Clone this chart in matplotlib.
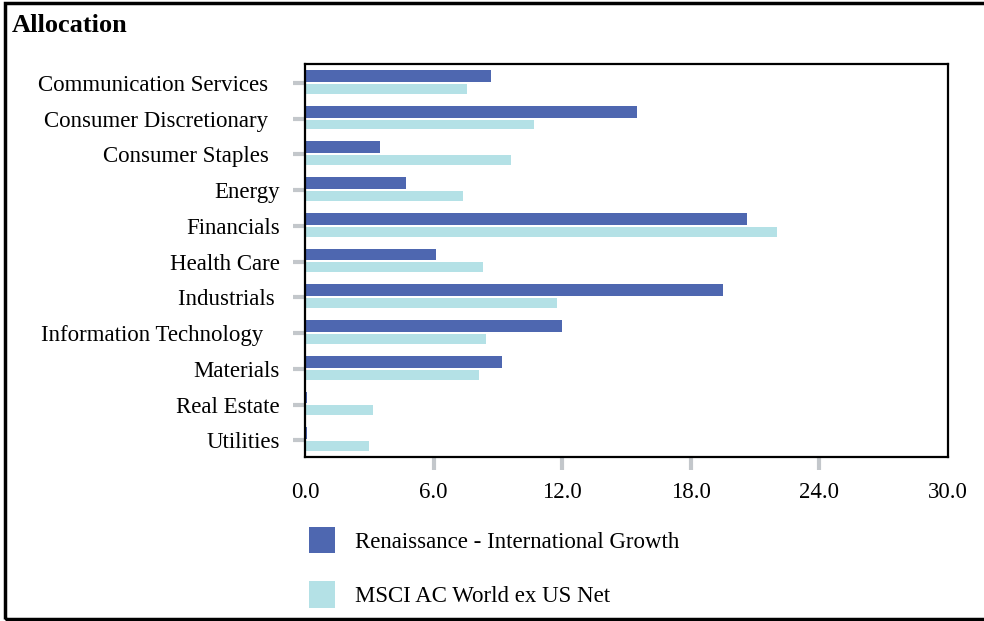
import numpy as np
import matplotlib.pyplot as plt
from matplotlib.patches import Rectangle

plt.rcParams['font.family'] = ['Liberation Serif', 'DejaVu Serif']

sectores = ['Communication Services  ', 'Consumer Discretionary  ', 'Consumer Staples  ',
            'Energy', 'Financials', 'Health Care', 'Industrials ',
            'Information Technology   ', 'Materials', 'Real Estate', 'Utilities']
renaissance = [8.7, 15.5, 3.5, 4.7, 20.6, 6.1, 19.5, 12.0, 9.2, 0.1, 0.1]
msci = [7.55, 10.7, 9.6, 7.35, 22.0, 8.3, 11.75, 8.45, 8.1, 3.15, 3.0]
xticks = [0, 6, 12, 18, 24, 30]

c_ren = '#4e67b0'
c_msci = '#b4e1e6'
gris = '#c3c7cb'
fs = 16.5

fig = plt.figure(figsize=(9.84, 6.21), dpi=100)
ax = fig.add_axes([0.31, 0.264, 0.6534, 0.633])

y = np.arange(len(sectores))
ax.barh(y - 0.167, renaissance, height=0.333, color=c_ren,
        label='Renaissance - International Growth')
ax.barh(y + 0.194, msci, height=0.278, color=c_msci,
        label='MSCI AC World ex US Net')

ax.set_ylim(len(sectores) - 0.5, -0.5)
ax.set_xlim(0, 30)
ax.set_yticks(y + 0.03)
ax.set_yticklabels(sectores, fontsize=fs)
ax.set_xticks(xticks)
ax.set_xticklabels([f'{v:.1f}' for v in xticks], fontsize=fs)
ax.tick_params(axis='both', color=gris, width=3, length=9, pad=9)
for t in (ax.xaxis.get_major_ticks()[0], ax.xaxis.get_major_ticks()[-1]):
    t.tick1line.set_visible(False)
for s in ax.spines.values():
    s.set_linewidth(1.6)
    s.set_color('black')

fig.text(12 / 984, 1 - 32 / 621, 'Allocation', fontsize=19, fontweight='bold',
         va='baseline', ha='left')

fig.legend(loc='upper left', bbox_to_anchor=(309 / 984, 1 - 527 / 621),
           frameon=False, fontsize=fs, handlelength=1.13, handleheight=1.4,
           handletextpad=0.87, labelspacing=1.22, borderpad=0, borderaxespad=0)

fig.patches.append(Rectangle((5 / 984, 2 / 621), 1.1, 1 - 5 / 621,
                             transform=fig.transFigure, fill=False,
                             edgecolor='black', linewidth=2.5))

plt.savefig('out.png', dpi=100)
plt.close()
